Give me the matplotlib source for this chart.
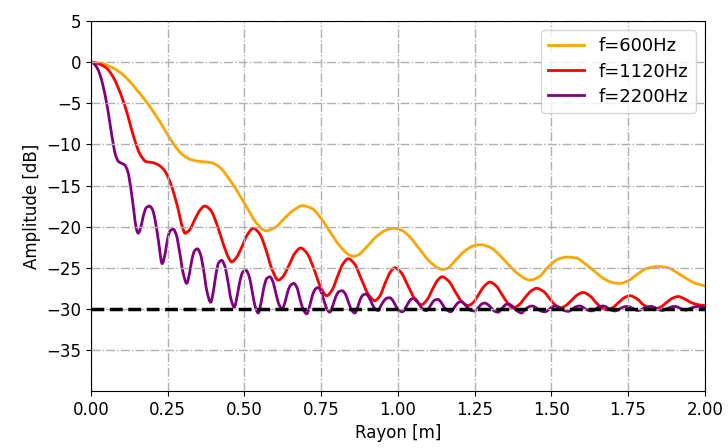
import numpy as np
import matplotlib
matplotlib.use("Agg")
import matplotlib.pyplot as plt
from matplotlib.path import Path
from matplotlib.patches import PathPatch
from matplotlib.lines import Line2D

# values: (rayon [m], amplitude [dB])
pts_600 = [
    (0.00, 0.0), (0.03, -0.1), (0.06, -0.5), (0.09, -1.1), (0.12, -2.1), (0.15, -3.4),
    (0.18, -4.8), (0.21, -6.4), (0.24, -8.2), (0.27, -10.0), (0.30, -11.3), (0.33, -11.9),
    (0.36, -12.1), (0.39, -12.2), (0.42, -12.8), (0.45, -14.2), (0.48, -15.9), (0.51, -17.8),
    (0.54, -19.6), (0.57, -20.5), (0.60, -20.1), (0.63, -19.0), (0.66, -18.0), (0.69, -17.45),
    (0.72, -17.8), (0.75, -19.0), (0.78, -20.7), (0.81, -22.3), (0.84, -23.4), (0.855, -23.6),
    (0.87, -23.45), (0.90, -22.4), (0.93, -21.2), (0.96, -20.45), (0.985, -20.2), (1.01, -20.4),
    (1.04, -21.3), (1.07, -22.7), (1.10, -24.1), (1.13, -25.0), (1.145, -25.2), (1.16, -25.1),
    (1.19, -24.0), (1.22, -22.9), (1.25, -22.3), (1.27, -22.2), (1.30, -22.5), (1.33, -23.4),
    (1.36, -24.6), (1.39, -25.7), (1.42, -26.4), (1.43, -26.5), (1.46, -26.1), (1.49, -24.9),
    (1.52, -24.0), (1.55, -23.7), (1.58, -23.8), (1.61, -24.5), (1.64, -25.4), (1.67, -26.3),
    (1.70, -26.8), (1.725, -26.9), (1.75, -26.6), (1.78, -25.8), (1.81, -25.1), (1.85, -24.85),
    (1.88, -25.0), (1.91, -25.6), (1.94, -26.3), (1.97, -26.9), (2.00, -27.2),
]

pts_1120 = [
    (0.00, 0.0), (0.025, -0.2), (0.05, -0.7), (0.075, -2.0), (0.10, -4.2), (0.12, -6.5),
    (0.14, -9.2), (0.16, -11.2), (0.18, -12.1), (0.20, -12.2), (0.22, -12.5), (0.24, -13.2),
    (0.26, -14.8), (0.28, -17.3), (0.30, -20.3), (0.306, -20.8), (0.32, -20.45), (0.34, -19.0),
    (0.355, -18.0), (0.371, -17.5), (0.39, -18.0), (0.41, -19.7), (0.43, -22.0), (0.45, -23.9),
    (0.458, -24.3), (0.475, -23.7), (0.49, -22.6), (0.51, -20.95), (0.529, -20.2), (0.55, -20.9),
    (0.57, -22.8), (0.59, -25.2), (0.61, -26.5), (0.625, -26.1), (0.645, -24.7), (0.665, -23.2),
    (0.683, -22.6), (0.705, -23.3), (0.725, -25.0), (0.75, -27.5), (0.768, -28.4), (0.785, -27.75),
    (0.805, -25.9), (0.82, -24.6), (0.838, -23.9), (0.86, -24.6), (0.88, -26.3), (0.905, -28.3),
    (0.925, -29.0), (0.94, -28.5), (0.96, -26.75), (0.975, -25.55), (0.99, -25.0), (1.01, -25.55),
    (1.035, -27.35), (1.06, -29.05), (1.077, -29.5), (1.095, -28.9), (1.115, -27.45), (1.13, -26.5),
    (1.144, -26.1), (1.165, -26.6), (1.19, -28.1), (1.21, -29.2), (1.229, -29.6), (1.245, -29.25),
    (1.265, -28.15), (1.28, -27.3), (1.30, -26.75), (1.32, -27.2), (1.34, -28.3), (1.36, -29.4),
    (1.375, -29.9), (1.395, -29.5), (1.415, -28.6), (1.435, -27.8), (1.452, -27.5), (1.475, -27.9),
    (1.50, -29.0), (1.515, -29.6), (1.528, -29.9), (1.545, -29.65), (1.565, -29.0), (1.585, -28.3),
    (1.604, -28.0), (1.625, -28.4), (1.65, -29.4), (1.665, -29.9), (1.68, -30.1), (1.70, -29.85),
    (1.72, -29.2), (1.74, -28.6), (1.756, -28.4), (1.78, -28.8), (1.80, -29.5), (1.82, -29.9),
    (1.837, -30.0), (1.855, -29.8), (1.875, -29.25), (1.895, -28.7), (1.913, -28.5), (1.935, -28.8),
    (1.96, -29.3), (1.98, -29.5), (2.00, -29.6),
]

pts_2200 = [
    (0.00, 0.0), (0.01, -0.2), (0.02, -0.7), (0.03, -1.6), (0.04, -3.0), (0.05, -4.8),
    (0.06, -7.0), (0.07, -9.4), (0.08, -11.3), (0.09, -12.1), (0.10, -12.3), (0.11, -12.5),
    (0.12, -13.3), (0.13, -15.4), (0.14, -18.2), (0.148, -20.3), (0.154, -20.8), (0.162, -20.1),
    (0.172, -18.5), (0.18, -17.7), (0.19, -17.5), (0.20, -17.9), (0.21, -19.4), (0.22, -21.8),
    (0.232, -24.5), (0.242, -23.2), (0.25, -21.4), (0.258, -20.5), (0.268, -20.3), (0.278, -21.0),
    (0.288, -22.9), (0.30, -25.6), (0.312, -26.9), (0.322, -25.5), (0.33, -23.8), (0.338, -22.9),
    (0.347, -22.7), (0.357, -23.4), (0.367, -25.3), (0.378, -27.9), (0.39, -29.2), (0.40, -27.6),
    (0.408, -25.6), (0.416, -24.4), (0.426, -24.1), (0.436, -24.8), (0.446, -26.6), (0.456, -28.8),
    (0.467, -29.8), (0.477, -28.3), (0.486, -26.5), (0.495, -25.5), (0.505, -25.3), (0.515, -26.0),
    (0.525, -27.8), (0.535, -29.7), (0.545, -30.5), (0.555, -29.1), (0.564, -27.3), (0.573, -26.3),
    (0.583, -26.1), (0.593, -26.7), (0.603, -28.2), (0.613, -29.5), (0.623, -30.0), (0.633, -29.1),
    (0.642, -27.8), (0.651, -27.1), (0.661, -26.9), (0.671, -27.4), (0.681, -28.8), (0.692, -30.1),
    (0.703, -30.6), (0.713, -29.6), (0.722, -28.3), (0.731, -27.6), (0.74, -27.4), (0.75, -27.9),
    (0.76, -29.1), (0.77, -30.1), (0.778, -30.4), (0.788, -29.6), (0.798, -28.5), (0.808, -27.9),
    (0.819, -27.8), (0.829, -28.2), (0.839, -29.2), (0.85, -30.2), (0.86, -30.5), (0.869, -29.8),
    (0.878, -28.8), (0.887, -28.3), (0.896, -28.2), (0.906, -28.6), (0.916, -29.4), (0.926, -30.0),
    (0.936, -30.2), (0.945, -29.6), (0.955, -29.0), (0.964, -28.7), (0.974, -28.65), (0.984, -29.0),
    (0.994, -29.7), (1.004, -30.2), (1.015, -30.35), (1.025, -29.9), (1.035, -29.2), (1.045, -28.8),
    (1.055, -28.75), (1.064, -29.1), (1.074, -29.7), (1.084, -30.1), (1.093, -30.2), (1.103, -29.8),
    (1.113, -29.2), (1.122, -28.9), (1.131, -28.85), (1.141, -29.2), (1.151, -29.8), (1.162, -30.2),
    (1.172, -30.35), (1.181, -30.0), (1.19, -29.5), (1.199, -29.2), (1.207, -29.1), (1.217, -29.4),
    (1.228, -29.9), (1.239, -30.2), (1.25, -30.25), (1.259, -30.0), (1.268, -29.6), (1.276, -29.35),
    (1.284, -29.3), (1.294, -29.5), (1.305, -29.9), (1.316, -30.3), (1.327, -30.4), (1.336, -30.1),
    (1.345, -29.7), (1.353, -29.45), (1.36, -29.4), (1.371, -29.6), (1.382, -30.0), (1.393, -30.35),
    (1.403, -30.5), (1.412, -30.2), (1.421, -29.9), (1.43, -29.7), (1.438, -29.65), (1.448, -29.8),
    (1.459, -30.1), (1.47, -30.3), (1.48, -30.35), (1.49, -30.15), (1.499, -29.85), (1.507, -29.7),
    (1.515, -29.65), (1.525, -29.8), (1.536, -30.05), (1.546, -30.25), (1.556, -30.3), (1.566, -30.1),
    (1.575, -29.85), (1.584, -29.7), (1.593, -29.65), (1.603, -29.8), (1.613, -30.05), (1.623, -30.2),
    (1.632, -30.25), (1.642, -30.1), (1.651, -29.85), (1.66, -29.7), (1.67, -29.65), (1.68, -29.8),
    (1.69, -30.05), (1.699, -30.2), (1.708, -30.25), (1.718, -30.1), (1.728, -29.9), (1.738, -29.75),
    (1.748, -29.7), (1.758, -29.8), (1.768, -30.0), (1.777, -30.15), (1.785, -30.2), (1.795, -30.05),
    (1.805, -29.85), (1.815, -29.75), (1.825, -29.7), (1.835, -29.8), (1.845, -30.0), (1.854, -30.15),
    (1.862, -30.2), (1.872, -30.05), (1.882, -29.9), (1.893, -29.75), (1.903, -29.7), (1.913, -29.8),
    (1.923, -30.0), (1.932, -30.1), (1.94, -30.15), (1.95, -30.0), (1.96, -29.85), (1.97, -29.75),
    (1.98, -29.7), (1.99, -29.75), (2.00, -29.85),
]

labels = ["f=600Hz", "f=1120Hz", "f=2200Hz"]
colors = ["orange", "red", "purple"]
threshold = -30
yticks = [5, 0, -5, -10, -15, -20, -25, -30, -35]
xticks = [0.0, 0.25, 0.5, 0.75, 1.0, 1.25, 1.5, 1.75, 2.0]


def smooth_path(pts):
    # bezier path through the read points (monotone cubic tangents)
    arr = np.array(pts)
    x, y = arr[:, 0], arr[:, 1]
    h = np.diff(x)
    d = np.diff(y) / h
    m = np.zeros(len(x))
    m[0], m[-1] = d[0], d[-1]
    for i in range(1, len(x) - 1):
        if d[i - 1] * d[i] > 0:
            w1 = 2 * h[i] + h[i - 1]
            w2 = h[i] + 2 * h[i - 1]
            m[i] = (w1 + w2) / (w1 / d[i - 1] + w2 / d[i])
    verts = [(x[0], y[0])]
    codes = [Path.MOVETO]
    for i in range(len(x) - 1):
        verts += [(x[i] + h[i] / 3, y[i] + m[i] * h[i] / 3),
                  (x[i + 1] - h[i] / 3, y[i + 1] - m[i + 1] * h[i] / 3),
                  (x[i + 1], y[i + 1])]
        codes += [Path.CURVE4] * 3
    return Path(verts, codes)


fig = plt.figure(figsize=(7.28, 4.48), dpi=100)
ax = fig.add_axes([0.125, 0.127, 0.843, 0.826])

handles = []
for pts, lab, col in zip([pts_600, pts_1120, pts_2200], labels, colors):
    ax.add_patch(PathPatch(smooth_path(pts), facecolor="none", edgecolor=col,
                           lw=2, capstyle="round", joinstyle="round"))
    handles.append(Line2D([], [], color=col, lw=2, label=lab))

ax.axhline(threshold, color="black", ls="--", lw=2.5)

ax.set_xlim(0, 2)
ax.set_ylim(-40, 5)
ax.set_xticks(xticks)
ax.set_yticks(yticks)
ax.xaxis.set_major_formatter(matplotlib.ticker.FormatStrFormatter("%.2f"))
ax.tick_params(labelsize=12)
ax.grid(True, ls="-.", color="#b0b0b0", lw=1)
ax.set_xlabel("Rayon [m]", fontsize=12)
ax.set_ylabel("Amplitude [dB]", fontsize=12)
ax.legend(handles=handles, loc="upper right", fontsize=13, labelspacing=0.4)

fig.savefig("out.png", dpi=100)
